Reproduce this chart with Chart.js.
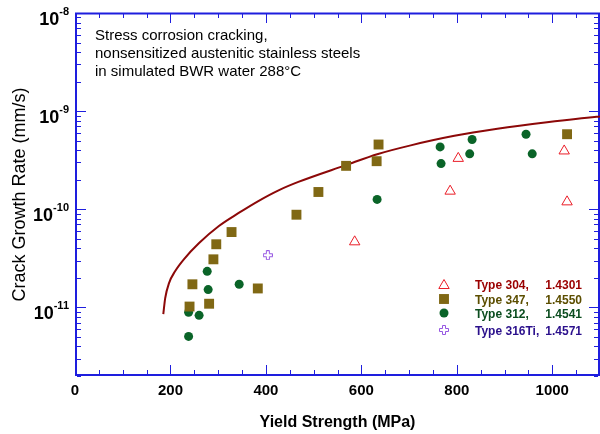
<!DOCTYPE html>
<html><head><meta charset="utf-8">
<script src="https://cdn.jsdelivr.net/npm/chart.js@4.4.1/dist/chart.umd.min.js"></script>
<style>
html,body{margin:0;padding:0;overflow:hidden;background:#fff;width:600px;height:434px;}
#wrap{width:600px;height:434px;overflow:hidden;position:relative;}
#c{position:absolute;left:0;top:0;}
</style></head>
<body><div id="wrap"><canvas id="c" width="600" height="434"></canvas></div>
<script>
// ---- data (yield strength MPa, crack growth rate mm/s) ----
const type304X = [586, 786, 803, 1025, 1031];
const type304Y = [4.66e-11, 1.53e-10, 3.3e-10, 3.93e-10, 1.19e-10];

const type347X = [240, 246, 281, 290, 296, 328, 383, 464, 510, 568, 632, 636, 1031];
const type347Y = [1.02e-11, 1.72e-11, 1.09e-11, 3.09e-11, 4.4e-11, 5.86e-11, 1.56e-11, 8.8e-11, 1.5e-10, 2.77e-10, 3.09e-10, 4.57e-10, 5.82e-10];

const type312X = [238, 238, 260, 277, 279, 344, 633, 765, 767, 827, 832, 945, 958];
const type312Y = [8.9e-12, 5.06e-12, 8.3e-12, 2.33e-11, 1.52e-11, 1.72e-11, 1.26e-10, 4.32e-10, 2.92e-10, 3.67e-10, 5.14e-10, 5.82e-10, 3.67e-10];

const type316TiX = [404];
const type316TiY = [3.4e-11];

const curveX = [185, 189, 197, 210, 228.5, 260, 301.5, 343, 385, 426.5, 468, 566, 635, 703.5, 795, 885, 989, 1093, 1100];
const curveY = [8.55e-12, 1.245e-11, 1.77e-11, 2.35e-11, 3.11e-11, 4.53e-11, 6.76e-11, 9.17e-11, 1.22e-10, 1.56e-10, 1.9e-10, 2.8e-10, 3.66e-10, 4.48e-10, 5.6e-10, 6.6e-10, 7.69e-10, 8.75e-10, 8.8e-10];

const seriesNames = ['Type 304,', 'Type 347,', 'Type 312,', 'Type 316Ti,'];
const seriesNumbers = ['1.4301', '1.4550', '1.4541', '1.4571'];
const yDecades = [-8, -9, -10, -11];
const noteLines = ['Stress corrosion cracking,', 'nonsensitized austenitic stainless steels', 'in simulated BWR water 288°C'];
const xTitle = 'Yield Strength (MPa)';
const yTitle = 'Crack Growth Rate (mm/s)';

// ---- styles ----
const FONT = '"Liberation Sans", Arial, sans-serif';
const AXIS_BLUE = '#1e1ede';
const legendTextColors = ['#9a0000', '#5c4e00', '#0b4d1f', '#2b108c'];

function makePlus(color) {
  const c = document.createElement('canvas');
  c.width = 10; c.height = 10;
  const g = c.getContext('2d');
  g.strokeStyle = color; g.lineWidth = 1;
  g.beginPath();
  const p = [[3.5,0.5],[6.5,0.5],[6.5,3.5],[9.5,3.5],[9.5,6.5],[6.5,6.5],[6.5,9.5],[3.5,9.5],[3.5,6.5],[0.5,6.5],[0.5,3.5],[3.5,3.5]];
  g.moveTo(p[0][0], p[0][1]);
  for (let i = 1; i < p.length; i++) g.lineTo(p[i][0], p[i][1]);
  g.closePath(); g.stroke();
  return c;
}
const plusImg = makePlus('#9657e2');

function pts(xs, ys) { return xs.map((x, i) => ({x: x, y: ys[i]})); }

const datasets = [
  {label: seriesNames[0], data: pts(type304X, type304Y), pointStyle: 'triangle', pointRadius: 6,
   backgroundColor: 'rgba(255,255,255,0)', borderColor: '#ea1e28', borderWidth: 1, showLine: false},
  {label: seriesNames[1], data: pts(type347X, type347Y), pointStyle: 'rect', pointRadius: 7,
   backgroundColor: '#806814', borderColor: '#806814', borderWidth: 0, showLine: false},
  {label: seriesNames[2], data: pts(type312X, type312Y), pointStyle: 'circle', pointRadius: 4.5,
   backgroundColor: '#0a6428', borderColor: '#0a6428', borderWidth: 0, showLine: false},
  {label: seriesNames[3], data: pts(type316TiX, type316TiY), pointStyle: plusImg, pointRadius: 5,
   backgroundColor: 'rgba(0,0,0,0)', borderColor: '#9657e2', borderWidth: 1, showLine: false},
  {label: 'fit', data: pts(curveX, curveY), type: 'line', showLine: true, pointRadius: 0,
   borderColor: '#8c0808', borderWidth: 2, fill: false, cubicInterpolationMode: 'monotone'}
];

const framePlugin = {
  id: 'frame',
  beforeDatasetsDraw(chart) {
    const ctx = chart.ctx, a = chart.chartArea;
    const xs = chart.scales.x, ys = chart.scales.y;
    ctx.save();
    ctx.strokeStyle = AXIS_BLUE;
    ctx.lineWidth = 1;
    ctx.beginPath();
    for (let v = 50; v < xs.max; v += 50) {
      const px = Math.round(xs.getPixelForValue(v)) + 0.5;
      const len = (v % 200 === 0) ? 9 : 4;
      ctx.moveTo(px, a.bottom - 2); ctx.lineTo(px, a.bottom - 2 - len);
      ctx.moveTo(px, a.top + 1); ctx.lineTo(px, a.top + 1 + len);
    }
    for (let d = -12; d <= -9; d++) {
      for (let k = 1; k <= 9; k++) {
        const v = k * Math.pow(10, d);
        if (v < ys.min * 0.999 || v > ys.max * 1.001) continue;
        const py = Math.round(ys.getPixelForValue(v)) + 0.5;
        const len = (k === 1) ? 9 : 4;
        ctx.moveTo(a.left + 2, py); ctx.lineTo(a.left + 2 + len, py);
        ctx.moveTo(a.right - 2, py); ctx.lineTo(a.right - 2 - len, py);
      }
    }
    ctx.stroke();
    ctx.lineWidth = 2;
    ctx.beginPath();
    ctx.moveTo(a.left + 1, a.top + 0.5); ctx.lineTo(a.left + 1, a.bottom);
    ctx.moveTo(a.left, a.bottom - 1); ctx.lineTo(a.right, a.bottom - 1);
    ctx.moveTo(a.left, a.top + 0.5); ctx.lineTo(a.right, a.top + 0.5);
    ctx.moveTo(a.right - 1, a.top); ctx.lineTo(a.right - 1, a.bottom);
    ctx.stroke();
    ctx.restore();
  }
};

const overlayPlugin = {
  id: 'overlay',
  afterDraw(chart) {
    const ctx = chart.ctx, ys = chart.scales.y;
    ctx.save();
    // y decade labels 10^n
    ctx.fillStyle = '#000';
    ctx.textAlign = 'right';
    ctx.textBaseline = 'alphabetic';
    yDecades.forEach(d => {
      const py = ys.getPixelForValue(Math.pow(10, d));
      const exp = String(d);
      ctx.font = 'bold 11px ' + FONT;
      const ew = ctx.measureText(exp).width;
      ctx.fillText(exp, 69, py + 1.5);
      ctx.font = 'bold 18px ' + FONT;
      ctx.fillText('10', 69 - ew, py + 11.5);
    });
    // annotation
    ctx.textAlign = 'left';
    ctx.font = '15px ' + FONT;
    ctx.fillStyle = '#000';
    noteLines.forEach((t, i) => ctx.fillText(t, 95, 40 + i * 18));
    // legend
    const rowY = [284, 299, 313, 330];
    for (let i = 0; i < 4; i++) {
      const ds = chart.data.datasets[i];
      const my = rowY[i] + (ds.pointStyle === 'triangle' ? 1.5 : 0);
      ctx.fillStyle = ds.backgroundColor;
      ctx.strokeStyle = ds.borderColor;
      ctx.lineWidth = ds.borderWidth;
      Chart.helpers.drawPoint(ctx, {pointStyle: ds.pointStyle, radius: ds.pointRadius, rotation: 0, borderWidth: ds.borderWidth}, 444, my);
      ctx.font = 'bold 12px ' + FONT;
      ctx.fillStyle = legendTextColors[i];
      ctx.textAlign = 'left';
      ctx.fillText(seriesNames[i], 475, rowY[i] + 4.5);
      ctx.textAlign = 'right';
      ctx.fillText(seriesNumbers[i], 582, rowY[i] + 4.5);
    }
    ctx.restore();
  }
};

Chart.defaults.font.family = FONT;
new Chart(document.getElementById('c'), {
  type: 'scatter',
  data: {datasets: datasets},
  options: {
    responsive: false,
    animation: false,
    devicePixelRatio: 1,
    layout: {autoPadding: false, padding: {top: 13, right: -3, left: 0, bottom: 0}},
    plugins: {legend: {display: false}, tooltip: {enabled: false}},
    scales: {
      x: {
        type: 'linear', position: 'bottom', min: 0, max: 1100,
        grid: {display: false, drawTicks: false}, border: {display: false},
        ticks: {stepSize: 200, includeBounds: false, padding: 6, color: '#000', font: {size: 15, weight: 'bold'}, maxRotation: 0,
                callback: v => String(v)},
        title: {display: true, text: xTitle, color: '#000', font: {size: 16, weight: 'bold'}, padding: {top: 0, bottom: 1.4}},
        afterFit(s) { s.height = 58; }
      },
      y: {
        type: 'logarithmic', position: 'left', min: 2e-12, max: 1e-8,
        grid: {display: false, drawTicks: false}, border: {display: false},
        ticks: {display: false},
        title: {display: true, text: yTitle, color: '#000', font: {size: 18, weight: 'normal'}, padding: {top: 9.2, bottom: 0}},
        afterFit(s) { s.width = 75; }
      }
    }
  },
  plugins: [framePlugin, overlayPlugin]
});
</script>
</body></html>
